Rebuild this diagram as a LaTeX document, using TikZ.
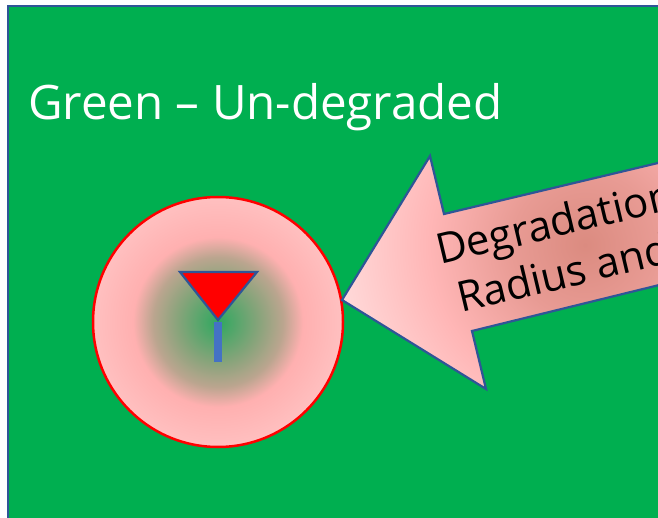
\documentclass[tikz,border=0pt]{standalone}
\usepackage{fontspec}
\setmainfont{Open Sans}
\definecolor{fieldgreen}{HTML}{00AF50}
\definecolor{edgeblue}{HTML}{2F5597}
\definecolor{stemblue}{HTML}{4472C4}
\definecolor{zonea}{HTML}{2EA85F}
\definecolor{zoneb}{HTML}{86A47A}
\definecolor{zonec}{HTML}{BBA58F}
\definecolor{zoned}{HTML}{FFB0B0}
\definecolor{zonee}{HTML}{FFC0C0}
\definecolor{arra}{HTML}{DB8B80}
\definecolor{arrb}{HTML}{E89B94}
\definecolor{arrc}{HTML}{FFB6B6}
\definecolor{arrd}{HTML}{FFDEDE}
\pgfdeclareradialshading{zoneshade}{\pgfpoint{0bp}{0bp}}{
  color(0bp)=(zonea);
  color(8bp)=(zoneb);
  color(13bp)=(zonec);
  color(17bp)=(zoned);
  color(25bp)=(zonee);
  color(50bp)=(zonee)}
\pgfdeclareradialshading{arrowshade}{\pgfpoint{0bp}{0bp}}{
  color(0bp)=(arra);
  color(7bp)=(arrb);
  color(15bp)=(arrc);
  color(25bp)=(arrd);
  color(50bp)=(arrd)}
\tikzset{
  outline/.style={draw=edgeblue,line width=2.2pt,line join=miter},
  headline/.style={text=white,font=\fontsize{47.5}{49}\selectfont,inner sep=0pt},
  arrowtext/.style={text=black,font=\fontsize{42}{44}\selectfont,inner sep=0pt,rotate=13.4}
}
\begin{document}
\begin{tikzpicture}[x=1pt,y=-1pt]
\useasboundingbox (0,0) rectangle (658,518);
\clip (0,0) rectangle (658,518);
\fill[white] (0,0) rectangle (658,518);
\fill[fieldgreen,draw=edgeblue,line width=2.5pt] (8,6) rectangle (700,560);
\node[headline,anchor=base west] (title) at (28,120) {Green – Un-degraded};
\coordinate (zone) at (218,322);
\shade[shading=zoneshade] (zone) circle (125);
\draw[red,line width=2.5pt] (zone) circle (125);
\fill[stemblue] (214,322) rectangle (222,362);
\draw[outline,fill=red] (180,272) -- (257,272) -- (218,320) -- cycle;
\begin{scope}
\clip (342,300) -- (430,156) -- (444,214) -- (700,153) -- (700,275) -- (472,331) -- (486,389) -- cycle;
\shade[shading=arrowshade] (585,245) circle (260);
\end{scope}
\draw[outline] (700,153) -- (444,214) -- (430,156) -- (342,300) -- (486,389) -- (472,331) -- (700,275);
\node[arrowtext,anchor=base west] (line1) at (440,265) {Degradation};
\node[arrowtext,anchor=base west] (line2) at (461,313) {Radius and};
\end{tikzpicture}
\end{document}
